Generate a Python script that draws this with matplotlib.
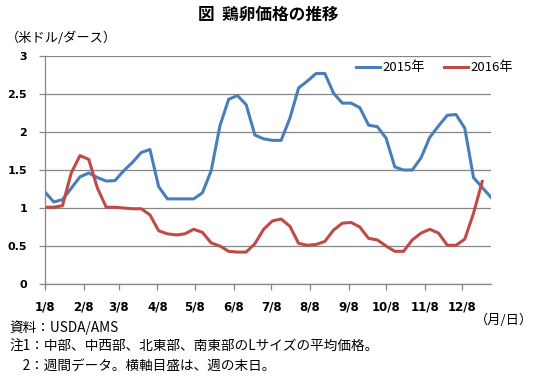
import matplotlib
matplotlib.use("Agg")
import matplotlib.pyplot as plt
import numpy as np
import pandas as pd

plt.rcParams["font.family"] = ["Noto Sans CJK JP", "DejaVu Sans"]

# weekly egg price (USD/dozen), first week ends 1/8
EGG_2015 = [
    1.21, 1.08, 1.11, 1.26, 1.41, 1.46, 1.40, 1.355, 1.36, 1.49,
    1.60, 1.73, 1.77, 1.28, 1.12, 1.12, 1.12, 1.12, 1.20, 1.49,
    2.08, 2.43, 2.48, 2.36, 1.96, 1.91, 1.89, 1.89, 2.18, 2.58,
    2.67, 2.77, 2.77, 2.51, 2.38, 2.38, 2.32, 2.09, 2.07, 1.92,
    1.54, 1.50, 1.50, 1.66, 1.93, 2.08, 2.22, 2.23, 2.05, 1.40,
    1.27, 1.14,
]
EGG_2016 = [
    1.01, 1.01, 1.03, 1.46, 1.69, 1.64, 1.26, 1.01, 1.01, 1.00,
    0.99, 0.99, 0.91, 0.70, 0.66, 0.645, 0.66, 0.72, 0.68, 0.54,
    0.50, 0.43, 0.42, 0.42, 0.53, 0.72, 0.83, 0.855, 0.76, 0.535,
    0.51, 0.52, 0.56, 0.71, 0.80, 0.81, 0.75, 0.60, 0.58, 0.50,
    0.43, 0.43, 0.58, 0.67, 0.72, 0.67, 0.51, 0.51, 0.59, 0.93,
    1.35, np.nan,
]
Y_TICKS = [0, 0.5, 1, 1.5, 2, 2.5, 3]
Y_LABELS = ["0", "0.5", "1", "1.5", "2", "2.5", "3"]

BLUE = "#4a7ebb"
RED = "#be4b48"
GRID = "#868686"

weeks = pd.date_range("2015-01-08", periods=len(EGG_2015), freq="7D")
month_ticks = pd.date_range("2015-01-01", periods=12, freq="MS") + pd.Timedelta(days=7)

fig = plt.figure(figsize=(5.37, 3.86), dpi=100)
ax = fig.add_axes([45 / 537, 1 - 284 / 386, 446 / 537, 228 / 386])

ax.plot(weeks, EGG_2015, color=BLUE, lw=2.2, label="2015年", solid_joinstyle="round")
ax.plot(weeks, EGG_2016, color=RED, lw=2.2, label="2016年", solid_joinstyle="round")

ax.set_ylim(0, 3)
ax.set_xlim(weeks[0], weeks[-1])
ax.set_yticks(Y_TICKS)
ax.set_yticklabels(Y_LABELS, fontsize=8, fontweight="bold", family=["DejaVu Sans"])
ax.set_xticks(month_ticks)
ax.set_xticklabels([f"{d.month}/{d.day}" for d in month_ticks], fontsize=8.5,
                   fontweight="bold", family=["DejaVu Sans"])
ax.tick_params(axis="both", color=GRID, length=4, width=0.9)
ax.tick_params(axis="x", pad=8)
ax.tick_params(axis="y", pad=9)

ax.grid(axis="y", color=GRID, lw=0.9)
ax.set_axisbelow(True)
for side in ("top", "right"):
    ax.spines[side].set_visible(False)
for side in ("left", "bottom"):
    ax.spines[side].set_color(GRID)
    ax.spines[side].set_linewidth(0.9)

ax.legend(loc="upper right", bbox_to_anchor=(522 / 537, 1 - 52 / 386), bbox_transform=fig.transFigure,
          ncol=2, frameon=False, fontsize=9.5, handlelength=1.8, handletextpad=0.2,
          columnspacing=1.4, borderpad=0.2)

fig.text(0.5, 1 - 15 / 386, "図  鶏卵価格の推移", ha="center", va="center", fontsize=12, fontweight="bold")
fig.text(6 / 537, 1 - 38 / 386, "（米ドル/ダース）", ha="left", va="center", fontsize=9.5)
fig.text(533 / 537, 1 - 320 / 386, "（月/日）", ha="right", va="center", fontsize=9.5)
fig.text(9 / 537, 1 - 328 / 386, "資料：USDA/AMS", ha="left", va="center", fontsize=9.8)
fig.text(9 / 537, 1 - 347 / 386, "注1：中部、中西部、北東部、南東部のLサイズの平均価格。", ha="left", va="center", fontsize=9.8)
fig.text(9 / 537, 1 - 366 / 386, "　2：週間データ。横軸目盛は、週の末日。", ha="left", va="center", fontsize=9.8)

fig.savefig("out.png", dpi=100, facecolor="white")
